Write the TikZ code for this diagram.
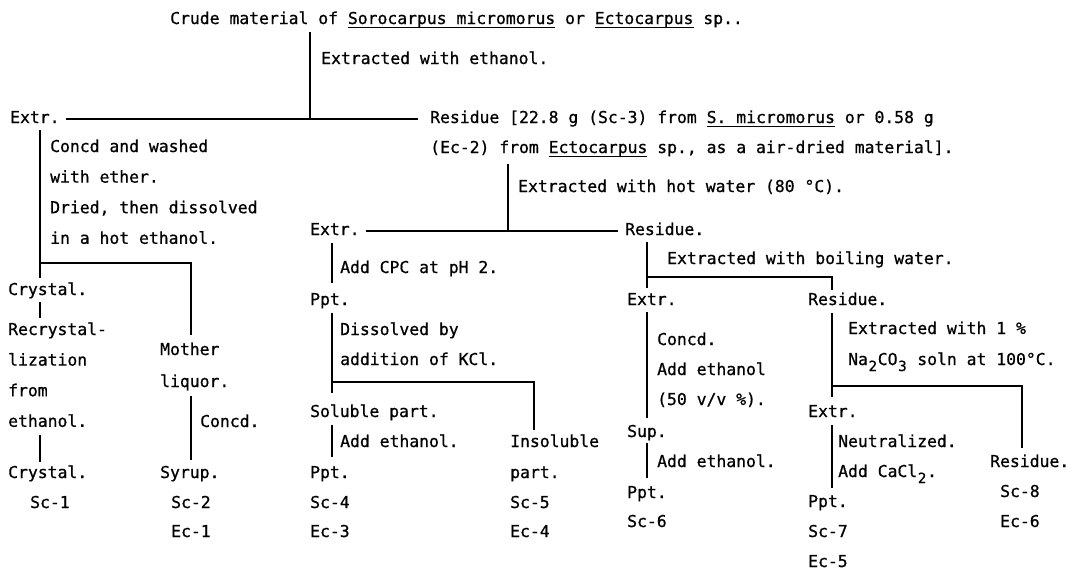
\documentclass[tikz,border=0pt]{standalone}
\usepackage{fontspec}
\newfontfamily\monof{DejaVu Sans Mono}[FakeBold=0.8]
\newcommand\chartfont{\monof\fontsize{16.4pt}{30pt}\selectfont}
\newcommand\ulw[1]{\setbox0=\hbox{#1}\rlap{\rule[-3.8pt]{\wd0}{1.1pt}}\box0\relax}
\newcommand\subdig[1]{\raisebox{-6pt}{\makebox[9.87pt]{\fontsize{14pt}{14pt}\selectfont#1}}}
\tikzset{
  lbl/.style={anchor=base west, inner sep=0pt, text height=12pt,
    text depth=4pt, font=\chartfont},
  flow/.style={line width=1.6pt}
}
\begin{document}
\begin{tikzpicture}[x=1pt,y=-1pt]
  \useasboundingbox (0,0) rectangle (1078,573);
  % starting material and first extraction
  \node[lbl] (crude) at (170,24)
    {Crude material of \ulw{Sorocarpus micromorus} or \ulw{Ectocarpus} sp..};
  \node[lbl] (eth) at (321,64) {Extracted with ethanol.};
  \node[lbl] (extr1) at (10,123) {Extr.};
  \node[lbl] (res1a) at (430,123)
    {Residue [22.8 g (Sc-3) from \ulw{S. micromorus} or 0.58 g};
  \node[lbl] (res1b) at (430,153)
    {(Ec-2) from \ulw{Ectocarpus} sp., as a air-dried material].};
  \coordinate (j0) at (310,119);
  \draw[flow] ([yshift=-4pt]crude.south -| j0) -- (j0);
  \draw[flow] ([xshift=6pt]extr1.east) -- ([xshift=-12pt]res1a.west |- extr1.east);

  % ethanol extract
  \foreach[count=\i] \t in {Concd and washed, with ether., {Dried, then dissolved}, in a hot ethanol.}{
    \node[lbl] (wash\i) at (50,{152+30.6*(\i-1)}) {\t};
  }
  \node[lbl] (cryst1) at (8,295) {Crystal.};
  \foreach[count=\i] \t in {Recrystal-, lization, from, ethanol.}{
    \node[lbl] (recr\i) at (8,{335+30.6*(\i-1)}) {\t};
  }
  \node[lbl] (cryst2) at (8,478) {Crystal.};
  \node[lbl] (sc1) at (30,508) {Sc-1};
  \node[lbl] (moth1) at (160,355) {Mother};
  \node[lbl] (moth2) at (160,387) {liquor.};
  \node[lbl] (concd1) at (200,427) {Concd.};
  \node[lbl] (syrup) at (160,478) {Syrup.};
  \node[lbl] (sc2) at (171,508) {Sc-2};
  \node[lbl] (ec1) at (171,537) {Ec-1};
  \coordinate (j1) at (40,263);
  \coordinate (j2) at (191,263);
  \draw[flow] ([yshift=-3pt]extr1.south -| j1) -- ([yshift=5pt]cryst1.north -| j1);
  \draw[flow] (j1) -- (j2) -- ([yshift=8pt]moth1.north -| j2);
  \draw[flow] ([yshift=-3pt]cryst1.south -| j1) -- ([yshift=5pt]recr1.north -| j1);
  \draw[flow] ([yshift=-4pt]recr4.south -| j1) -- ([yshift=4pt]cryst2.north -| j1);
  \draw[flow] ([yshift=-5pt]moth2.south -| j2) -- ([yshift=6pt]syrup.north -| j2);

  % hot water
  \node[lbl] (hot) at (518,192) {Extracted with hot water (80 °C).};
  \node[lbl] (extr2) at (310,235) {Extr.};
  \node[lbl] (res2) at (625,235) {Residue.};
  \coordinate (j3) at (508,231);
  \draw[flow] ([yshift=-7pt]res1b.south -| j3) -- (j3);
  \draw[flow] ([xshift=6pt]extr2.east) -- ([xshift=-7pt]res2.west |- extr2.east);

  % hot water extract
  \node[lbl] (cpc) at (340,273) {Add CPC at pH 2.};
  \node[lbl] (ppt1) at (310,305) {Ppt.};
  \node[lbl] (kcl1) at (340,335) {Dissolved by};
  \node[lbl] (kcl2) at (340,365) {addition of KCl.};
  \node[lbl] (sol) at (310,417) {Soluble part.};
  \node[lbl] (addeth1) at (340,447) {Add ethanol.};
  \node[lbl] (ppt2) at (310,478) {Ppt.};
  \node[lbl] (sc4) at (310,508) {Sc-4};
  \node[lbl] (ec3) at (310,537) {Ec-3};
  \node[lbl] (ins1) at (510,447) {Insoluble};
  \node[lbl] (ins2) at (510,478) {part.};
  \node[lbl] (sc5) at (510,508) {Sc-5};
  \node[lbl] (ec4) at (510,537) {Ec-4};
  \coordinate (j4) at (332,382);
  \coordinate (j5) at (534,382);
  \draw[flow] ([yshift=-4pt]extr2.south -| j4) -- ([yshift=10pt]ppt1.north -| j4);
  \draw[flow] ([yshift=-4pt]ppt1.south -| j4) -- ([yshift=12pt]sol.north -| j4);
  \draw[flow] (j4) -- (j5) -- ([yshift=5pt]ins1.north -| j5);
  \draw[flow] ([yshift=-4pt]sol.south -| j4) -- ([yshift=9pt]ppt2.north -| j4);

  % boiling water
  \node[lbl] (boil) at (667,264) {Extracted with boiling water.};
  \node[lbl] (extr3) at (627,305) {Extr.};
  \node[lbl] (res3) at (808,305) {Residue.};
  \node[lbl] (conc2a) at (657,345) {Concd.};
  \node[lbl] (conc2b) at (657,375) {Add ethanol};
  \node[lbl] (conc2c) at (657,405) {(50 v/v \%).};
  \node[lbl] (sup) at (627,437) {Sup.};
  \node[lbl] (addeth2) at (657,467) {Add ethanol.};
  \node[lbl] (ppt3) at (627,498) {Ppt.};
  \node[lbl] (sc6) at (627,527) {Sc-6};
  \coordinate (j6) at (647,277);
  \coordinate (j7) at (832,277);
  \draw[flow] ([yshift=-3pt]res2.south -| j6) -- ([yshift=5pt]extr3.north -| j6);
  \draw[flow] (j6) -- (j7) -- ([yshift=3pt]res3.north -| j7);
  \draw[flow] ([yshift=-3pt]extr3.south -| j6) -- ([yshift=7pt]sup.north -| j6);
  \draw[flow] ([yshift=-2pt]sup.south -| j6) -- ([yshift=8pt]ppt3.north -| j6);

  % sodium carbonate
  \node[lbl] (na1) at (848,334) {Extracted with 1 \%};
  \node[lbl] (na2) at (848,365) {Na\subdig{2}CO\subdig{3} soln at 100°C.};
  \node[lbl] (extr4) at (808,417) {Extr.};
  \node[lbl] (neut1) at (838,447) {Neutralized.};
  \node[lbl] (neut2) at (838,477) {Add CaCl\subdig{2}.};
  \node[lbl] (ppt4) at (808,507) {Ppt.};
  \node[lbl] (sc7) at (808,537) {Sc-7};
  \node[lbl] (ec5) at (808,567) {Ec-5};
  \node[lbl] (res4) at (990,467) {Residue.};
  \node[lbl] (sc8) at (1000,497) {Sc-8};
  \node[lbl] (ec6) at (1000,527) {Ec-6};
  \coordinate (j8) at (832,386);
  \coordinate (j9) at (1022,386);
  \draw[flow] ([yshift=-4pt]res3.south -| j8) -- ([yshift=8pt]extr4.north -| j8);
  \draw[flow] (j8) -- (j9) -- ([yshift=7pt]res4.north -| j9);
  \draw[flow] ([yshift=-4pt]extr4.south -| j8) -- ([yshift=7pt]ppt4.north -| j8);
\end{tikzpicture}
\end{document}
